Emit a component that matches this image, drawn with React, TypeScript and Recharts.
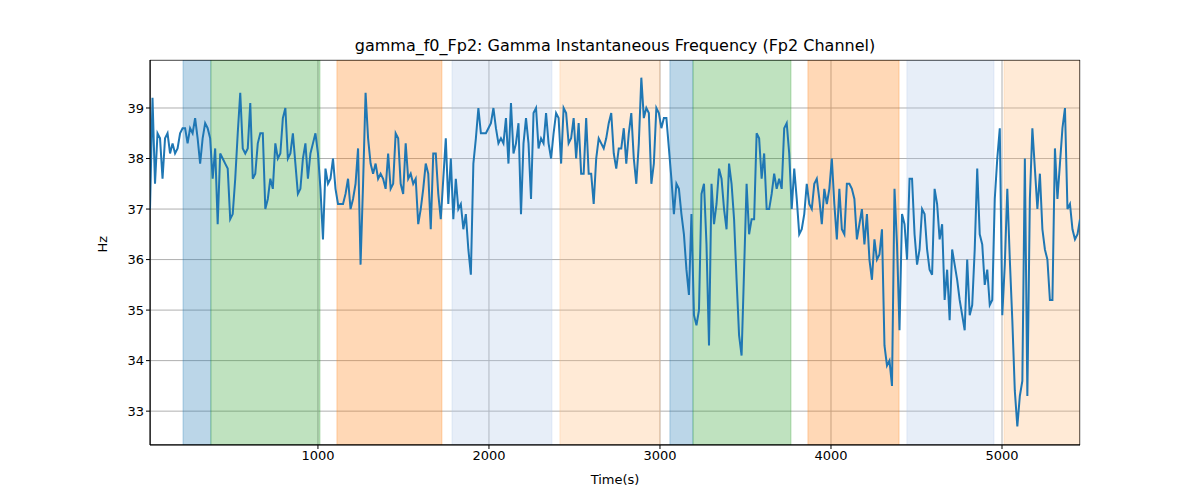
import * as React from "react";
import {
  LineChart,
  Line,
  XAxis,
  YAxis,
  CartesianGrid,
  ReferenceArea,
  Label,
} from "recharts";

// Gamma instantaneous frequency, Fp2 channel (Hz), sampled evenly from START to END
const START = 18;
const END = 5456;
const freq = [
  37.0, 39.2, 37.5, 38.5, 38.4, 37.6, 38.4, 38.5, 38.1, 38.3, 38.1, 38.2, 38.5, 38.6, 38.6, 38.3, 38.6, 38.5, 38.8, 38.4, 37.9, 38.4, 38.7, 38.6,
  38.4, 37.6, 38.2, 36.7, 38.1, 38.0, 37.9, 37.8, 36.8, 36.9, 37.6, 38.5, 39.3, 38.2, 38.1, 38.2, 39.1, 37.6, 37.7, 38.3, 38.5, 38.5, 37.0, 37.2,
  37.6, 37.4, 38.3, 38.0, 38.1, 38.8, 39.0, 38.0, 38.1, 38.5, 37.9, 37.3, 37.4, 38.0, 38.3, 37.6, 38.1, 38.3, 38.5,
  38.1, 37.4, 36.4, 37.8, 37.5, 37.6, 38.0,
  37.4, 37.1, 37.1, 37.1, 37.3, 37.6, 37.0, 37.2, 37.5, 38.2, 35.9, 37.5, 39.3, 38.4, 37.9, 37.7, 37.9, 37.6, 37.7, 37.6, 37.4, 38.1, 37.4, 37.5,
  38.5, 38.4, 37.5, 37.3, 38.3, 37.6, 37.7, 37.5, 37.6, 36.7, 37.0, 37.4, 37.9, 37.7, 36.6, 38.1, 38.1,
  37.3, 36.8, 37.6, 38.4, 37.1, 38.0, 36.8, 37.6, 37.0, 37.1, 36.6, 36.9, 36.2, 35.7, 37.9, 38.4, 39.0, 38.5, 38.5, 38.5, 38.6, 38.7, 39.0, 38.6,
  38.3, 38.4, 38.3, 38.8, 37.9, 39.1, 38.1, 38.3, 38.7, 36.9, 38.3, 38.8, 38.3, 37.2, 38.9, 39.0, 38.2, 38.4, 38.3, 38.9, 38.3, 38.0,
  38.5, 38.9, 38.8, 37.9, 39.0, 38.9, 38.3, 38.4, 38.8, 38.0, 38.7, 37.7, 37.7, 38.8, 37.7, 37.7, 37.1, 38.0, 38.4, 38.3, 38.2, 38.4, 38.7, 38.9,
  38.1, 37.8, 38.2, 38.2, 38.6, 37.9, 38.5, 38.9, 38.0, 37.5, 38.3, 39.6, 38.8, 39.0, 38.9,
  37.5, 37.9, 39.0, 38.9,
  38.6, 38.8, 38.8, 38.2, 37.6, 36.9, 37.5, 37.4, 36.9,
  36.5, 35.8, 35.3, 36.9, 34.9, 34.7, 35.0, 37.3, 37.5, 36.3, 34.3, 37.5, 36.7, 37.1, 37.8, 37.6, 37.0, 36.6, 37.9, 37.5, 36.8, 35.6, 34.5, 34.1,
  35.8, 37.5, 36.5, 36.8, 36.8, 38.5, 38.4, 37.6, 38.1, 37.0, 37.0,
  37.3, 37.7, 37.4, 37.6, 37.4,
  38.6, 38.7, 38.1, 37.0, 37.8, 37.2, 36.5, 36.6, 36.9, 37.5, 37.1, 37.0, 37.5, 37.6, 37.2, 36.7, 37.4, 37.1, 37.4, 38.0, 37.1, 36.4, 37.4, 36.6,
  36.5, 37.5, 37.5, 37.4, 37.2, 36.4, 36.7, 37.0, 36.3, 36.9, 36.0, 35.6, 36.4, 36.0, 36.1, 36.6, 34.3, 33.9, 34.0, 33.5, 37.4, 36.3, 34.6, 36.9,
  36.7, 36.0,
  37.6, 37.6, 36.5, 35.9, 36.2, 37.0, 36.9, 36.2, 35.8, 35.7, 37.4, 37.1, 36.4, 36.7, 35.2, 35.8, 34.8, 36.2, 35.9, 35.6, 35.2, 34.9, 34.6, 36.0,
  34.9, 35.1, 36.2, 37.8, 36.5, 36.3, 35.5, 35.8, 35.1, 35.2, 37.2, 38.0, 38.6,
  34.9, 35.9, 37.4,
  36.0, 34.8, 33.4, 32.7, 33.3, 33.6, 38.0, 33.3, 37.2, 38.6, 37.8, 37.0, 37.7, 36.6, 36.2, 36.0, 35.2, 35.2, 38.2, 37.2, 37.9, 38.6, 39.0, 37.0,
  37.1, 36.6, 36.4, 36.5, 36.8,
];

const bandStarts = [211, 374, 1111, 1784, 2415, 3058, 3193, 3865, 4444, 5012];
const bandEnds = [374, 1012, 1725, 2368, 3000, 3193, 3766, 4398, 4953, 5456];
const bandColors = ["#1f77b4", "#2ca02c", "#ff7f0e", "#aec7e8", "#ffbb78", "#1f77b4", "#2ca02c", "#ff7f0e", "#aec7e8", "#ffbb78"];

const xTicks = [1000, 2000, 3000, 4000, 5000];
const yTicks = [33, 34, 35, 36, 37, 38, 39];

const data = freq.map((v, i) => ({
  t: START + ((END - START) * i) / (freq.length - 1),
  hz: v,
}));

const font = "DejaVu Sans, sans-serif";

export default function App() {
  return (
    <div style={{ position: "relative", width: 1200, height: 500, margin: -8, background: "#fff", fontFamily: font }}>
      <div style={{ position: "absolute", top: 36, left: 150, width: 930, textAlign: "center", fontSize: 16, color: "#000" }}>
        gamma_f0_Fp2: Gamma Instantaneous Frequency (Fp2 Channel)
      </div>
      <div style={{ position: "absolute", top: 472, left: 150, width: 930, textAlign: "center", fontSize: 13, color: "#000" }}>
        Time(s)
      </div>
      <LineChart width={1200} height={500} data={data} margin={{ top: 60, right: 120, bottom: 25, left: 90 }}>
        <CartesianGrid stroke="#b0b0b0" strokeWidth={1} />
        {bandStarts.map((s, i) => (
          <ReferenceArea
            key={i}
            x1={s}
            x2={bandEnds[i]}
            fill={bandColors[i]}
            fillOpacity={0.3}
            stroke={bandColors[i]}
            strokeOpacity={0.3}
            ifOverflow="hidden"
          />
        ))}
        <XAxis
          dataKey="t"
          type="number"
          domain={[START, END]}
          ticks={xTicks}
          allowDataOverflow
          tick={{ fill: "#000", fontSize: 13, fontFamily: font }}
          tickLine={{ stroke: "#000" }}
          axisLine={{ stroke: "#000" }}
          tickSize={4}
        />
        <YAxis
          type="number"
          domain={[32.33, 39.95]}
          ticks={yTicks}
          allowDataOverflow
          width={60}
          tick={{ fill: "#000", fontSize: 13, fontFamily: font }}
          tickLine={{ stroke: "#000" }}
          axisLine={{ stroke: "#000" }}
          tickSize={4}
        >
          <Label value="Hz" angle={-90} position="insideLeft" offset={12} style={{ fill: "#000", fontSize: 13, fontFamily: font }} />
        </YAxis>
        <Line dataKey="hz" stroke="#1f77b4" strokeWidth={2} dot={false} isAnimationActive={false} />
        <ReferenceArea x1={START} x2={END} y1={32.33} y2={39.95} fill="none" stroke="#000" strokeWidth={1} ifOverflow="hidden" />
      </LineChart>
    </div>
  );
}
